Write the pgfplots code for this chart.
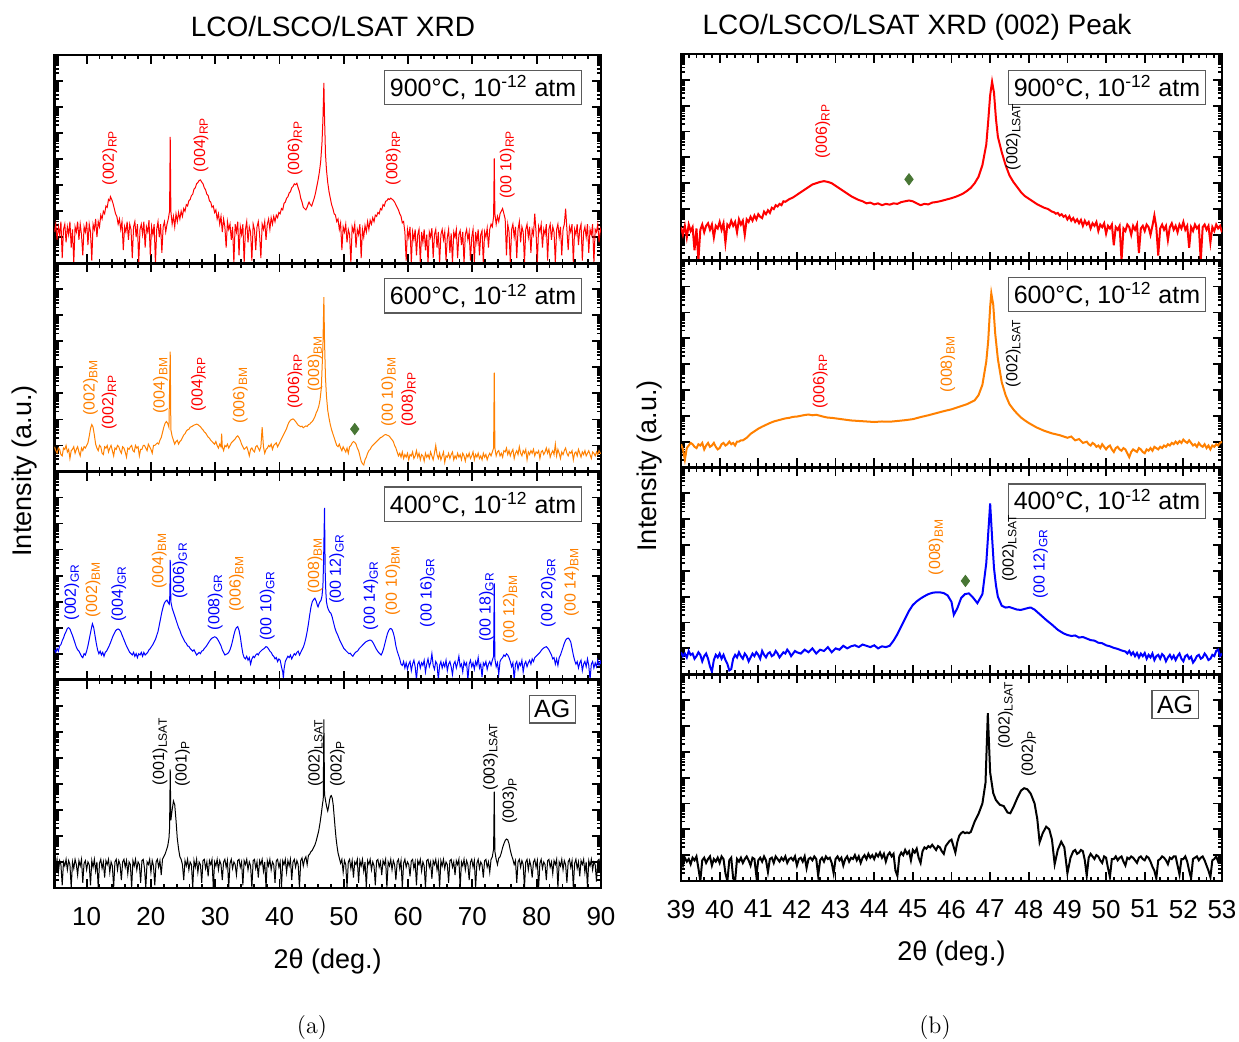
\documentclass[border=0pt]{standalone}
\usepackage{pgfplots}
\pgfplotsset{compat=1.18}
\usepackage{pgfplotstable}
\usepackage{fontspec}
\setsansfont{Liberation Sans}

\definecolor{xred}{RGB}{255,0,0}
\definecolor{xorange}{RGB}{255,128,0}
\definecolor{xblue}{RGB}{0,0,255}
\definecolor{dgreen}{RGB}{72,118,52}
\definecolor{boxgray}{RGB}{90,90,90}

% Intensities are stored as log10 counts above the panel floor (8 decades per panel).
% ---------- full scans, 5-90 deg ----------
\pgfplotstableread[row sep=\\]{x v\\
5.0 1.2\\ 5.2 1.5\\ 5.4 0.9\\ 5.6 1.4\\ 5.8 1.1\\ 6.0 1.6\\ 6.2 0.2\\ 6.4 1.3\\ 6.6 1.5\\ 6.8 0.8\\ 7.0 1.4\\ 7.2 1.1\\ 7.4 1.6\\ 7.6 0.6\\ 7.8 1.3\\ 8.0 0.0\\ 8.2 1.4\\ 8.4 1.2\\ 8.6 1.6\\ 8.8 0.9\\ 9.0 1.5\\ 9.2 1.1\\ 9.4 0.3\\ 9.6 1.4\\ 9.8 1.2\\ 10.0 1.6\\ 10.2 0.7\\ 10.4 1.5\\ 10.6 1.2\\ 10.8 0.1\\ 11.0 1.5\\ 11.2 1.3\\ 11.4 1.7\\ 11.6 1.0\\ 11.8 1.6\\ 12.0 1.4\\ 12.2 1.85\\ 12.4 1.7\\ 12.6 2.0\\ 12.8 1.9\\ 13.0 2.2\\ 13.2 2.15\\ 13.4 2.45\\ 13.6 2.4\\ 13.7 2.56\\ 13.9 2.45\\ 14.1 2.3\\ 14.3 2.1\\ 14.5 1.9\\ 14.7 1.8\\ 14.9 1.5\\ 15.1 1.7\\ 15.3 1.3\\ 15.5 1.6\\ 15.7 0.5\\ 15.9 1.4\\ 16.1 1.2\\ 16.3 1.6\\ 16.5 0.9\\ 16.7 1.5\\ 16.9 1.3\\ 17.1 0.2\\ 17.3 1.4\\ 17.5 1.6\\ 17.7 1.0\\ 17.9 1.5\\ 18.1 0.0\\ 18.3 1.3\\ 18.5 1.5\\ 18.7 1.1\\ 18.9 1.6\\ 19.1 0.6\\ 19.3 1.4\\ 19.5 1.2\\ 19.7 1.65\\ 19.9 0.3\\ 20.1 1.4\\ 20.3 1.1\\ 20.5 1.5\\ 20.7 0.0\\ 20.9 1.3\\ 21.1 1.6\\ 21.3 1.0\\ 21.5 1.5\\ 21.7 0.4\\ 21.9 1.4\\ 22.1 1.6\\ 22.3 1.2\\ 22.5 1.5\\ 22.7 1.7\\ 22.9 2.0\\ 23.0 4.85\\ 23.1 2.0\\ 23.3 1.5\\ 23.5 1.8\\ 23.7 1.4\\ 23.9 1.9\\ 24.1 1.6\\ 24.3 1.95\\ 24.5 1.7\\ 24.7 2.0\\ 24.9 1.8\\ 25.1 2.1\\ 25.3 2.0\\ 25.5 2.25\\ 25.7 2.2\\ 25.9 2.4\\ 26.1 2.45\\ 26.3 2.6\\ 26.5 2.65\\ 26.7 2.85\\ 26.9 2.9\\ 27.1 3.05\\ 27.3 3.1\\ 27.5 3.18\\ 27.7 3.2\\ 27.9 3.12\\ 28.1 3.05\\ 28.3 2.9\\ 28.5 2.82\\ 28.7 2.65\\ 28.9 2.6\\ 29.1 2.4\\ 29.3 2.35\\ 29.5 2.15\\ 29.7 2.2\\ 29.9 1.95\\ 30.1 2.05\\ 30.3 1.7\\ 30.5 1.9\\ 30.7 1.5\\ 30.9 1.8\\ 31.1 1.2\\ 31.3 1.7\\ 31.5 1.4\\ 31.7 0.6\\ 31.9 1.6\\ 32.1 1.3\\ 32.3 1.5\\ 32.5 0.9\\ 32.7 1.4\\ 32.9 0.0\\ 33.1 1.5\\ 33.3 1.2\\ 33.5 1.6\\ 33.7 0.3\\ 33.9 1.4\\ 34.1 1.1\\ 34.3 1.5\\ 34.5 0.0\\ 34.7 1.3\\ 34.9 1.6\\ 35.1 0.8\\ 35.3 1.4\\ 35.5 1.2\\ 35.7 0.1\\ 35.9 1.5\\ 36.1 1.3\\ 36.3 0.5\\ 36.5 1.4\\ 36.7 1.6\\ 36.9 1.1\\ 37.1 0.2\\ 37.3 1.5\\ 37.5 1.3\\ 37.7 1.6\\ 37.9 0.9\\ 38.1 1.5\\ 38.3 1.7\\ 38.5 1.3\\ 38.7 1.75\\ 38.9 1.5\\ 39.1 1.8\\ 39.3 1.6\\ 39.5 1.85\\ 39.7 1.75\\ 39.9 1.95\\ 40.1 1.9\\ 40.3 2.1\\ 40.5 2.05\\ 40.7 2.3\\ 40.9 2.35\\ 41.1 2.5\\ 41.3 2.55\\ 41.5 2.7\\ 41.7 2.75\\ 41.9 2.9\\ 42.1 2.95\\ 42.3 3.05\\ 42.5 3.02\\ 42.7 3.07\\ 42.9 2.9\\ 43.1 2.75\\ 43.3 2.5\\ 43.5 2.35\\ 43.7 2.15\\ 43.9 2.1\\ 44.1 2.05\\ 44.3 2.15\\ 44.5 2.3\\ 44.6 2.35\\ 44.8 2.25\\ 45.0 2.2\\ 45.2 2.35\\ 45.4 2.5\\ 45.6 2.7\\ 45.8 2.95\\ 46.0 3.2\\ 46.2 3.5\\ 46.4 3.9\\ 46.6 4.6\\ 46.75 5.5\\ 46.9 6.93\\ 47.0 5.6\\ 47.15 4.2\\ 47.3 3.6\\ 47.5 3.1\\ 47.7 2.75\\ 47.9 2.5\\ 48.1 2.25\\ 48.3 2.1\\ 48.5 1.9\\ 48.7 1.85\\ 48.9 1.6\\ 49.1 1.7\\ 49.3 1.3\\ 49.5 1.55\\ 49.7 0.5\\ 49.9 1.4\\ 50.1 1.2\\ 50.3 1.5\\ 50.5 0.8\\ 50.7 1.3\\ 50.9 1.1\\ 51.1 0.0\\ 51.3 1.4\\ 51.5 1.2\\ 51.7 1.5\\ 51.9 0.6\\ 52.1 1.3\\ 52.3 1.1\\ 52.5 1.5\\ 52.7 0.2\\ 52.9 1.3\\ 53.1 1.0\\ 53.3 1.45\\ 53.5 1.2\\ 53.7 1.6\\ 53.9 1.3\\ 54.1 1.65\\ 54.3 1.5\\ 54.5 1.75\\ 54.7 1.6\\ 54.9 1.85\\ 55.1 1.8\\ 55.3 1.95\\ 55.5 1.9\\ 55.7 2.1\\ 55.9 2.05\\ 56.1 2.25\\ 56.3 2.2\\ 56.5 2.38\\ 56.7 2.4\\ 56.9 2.48\\ 57.1 2.45\\ 57.3 2.5\\ 57.5 2.46\\ 57.7 2.42\\ 57.9 2.35\\ 58.1 2.25\\ 58.3 2.15\\ 58.5 2.05\\ 58.7 1.9\\ 58.9 1.8\\ 59.1 1.55\\ 59.3 1.6\\ 59.5 1.2\\ 59.7 0.1\\ 59.9 1.3\\ 60.1 1.0\\ 60.3 1.4\\ 60.5 0.0\\ 60.7 1.2\\ 60.9 0.9\\ 61.1 1.3\\ 61.3 0.3\\ 61.5 1.1\\ 61.7 1.3\\ 61.9 0.0\\ 62.1 1.2\\ 62.3 0.8\\ 62.5 1.3\\ 62.7 0.5\\ 62.9 1.1\\ 63.1 0.0\\ 63.3 1.2\\ 63.5 1.0\\ 63.7 1.35\\ 63.9 0.2\\ 64.1 1.1\\ 64.3 1.3\\ 64.5 0.6\\ 64.7 1.2\\ 64.9 0.0\\ 65.1 1.1\\ 65.3 1.3\\ 65.5 0.9\\ 65.7 1.2\\ 65.9 0.1\\ 66.1 1.0\\ 66.3 1.3\\ 66.5 0.4\\ 66.7 1.15\\ 66.9 0.0\\ 67.1 1.2\\ 67.3 1.0\\ 67.5 1.3\\ 67.7 0.2\\ 67.9 1.1\\ 68.1 1.25\\ 68.3 0.7\\ 68.5 1.2\\ 68.7 0.0\\ 68.9 1.1\\ 69.1 1.3\\ 69.3 0.9\\ 69.5 1.2\\ 69.7 0.1\\ 69.9 1.0\\ 70.1 1.3\\ 70.3 0.0\\ 70.5 1.2\\ 70.7 0.8\\ 70.9 1.3\\ 71.1 0.3\\ 71.3 1.1\\ 71.5 1.25\\ 71.7 0.0\\ 71.9 1.2\\ 72.1 1.0\\ 72.3 1.35\\ 72.5 0.6\\ 72.7 1.3\\ 72.9 1.5\\ 73.1 1.4\\ 73.3 1.8\\ 73.4 4.03\\ 73.5 1.9\\ 73.7 1.5\\ 73.9 1.8\\ 74.1 1.6\\ 74.3 1.9\\ 74.5 2.0\\ 74.7 2.1\\ 74.9 1.9\\ 75.1 1.7\\ 75.3 0.3\\ 75.5 1.5\\ 75.7 1.2\\ 75.9 0.0\\ 76.1 1.3\\ 76.3 1.5\\ 76.5 1.0\\ 76.7 1.4\\ 76.9 0.2\\ 77.1 1.3\\ 77.3 1.6\\ 77.5 0.8\\ 77.7 1.4\\ 77.9 1.2\\ 78.1 0.0\\ 78.3 1.3\\ 78.5 1.5\\ 78.7 1.0\\ 78.9 1.4\\ 79.1 0.4\\ 79.3 1.3\\ 79.5 1.1\\ 79.7 1.9\\ 79.9 1.2\\ 80.1 0.0\\ 80.3 1.4\\ 80.5 1.2\\ 80.7 1.5\\ 80.9 0.6\\ 81.1 1.3\\ 81.3 1.1\\ 81.5 1.5\\ 81.7 0.1\\ 81.9 1.3\\ 82.1 1.5\\ 82.3 0.9\\ 82.5 1.4\\ 82.7 1.2\\ 82.9 0.0\\ 83.1 1.3\\ 83.3 1.5\\ 83.5 1.0\\ 83.7 1.4\\ 83.9 0.3\\ 84.1 1.3\\ 84.3 1.5\\ 84.5 2.1\\ 84.7 1.3\\ 84.9 0.5\\ 85.1 1.4\\ 85.3 1.2\\ 85.5 1.5\\ 85.7 0.0\\ 85.9 1.3\\ 86.1 1.1\\ 86.3 1.5\\ 86.5 0.7\\ 86.7 1.3\\ 86.9 1.5\\ 87.1 0.1\\ 87.3 1.2\\ 87.5 1.4\\ 87.7 1.0\\ 87.9 1.5\\ 88.1 0.4\\ 88.3 1.3\\ 88.5 1.1\\ 88.7 1.5\\ 88.9 0.0\\ 89.1 1.3\\ 89.3 1.2\\ 89.5 1.5\\ 89.7 0.8\\ 89.9 1.3\\ 90.0 1.2\\
}\scanNine

\pgfplotstableread[row sep=\\]{x v\\
5.0 0.95\\ 5.2 0.8\\ 5.4 0.7\\ 5.6 0.9\\ 5.8 0.85\\ 6.0 0.65\\ 6.2 0.6\\ 6.4 0.9\\ 6.6 0.85\\ 6.8 1.0\\ 7.0 0.75\\ 7.2 0.85\\ 7.4 0.5\\ 7.6 0.8\\ 7.8 0.85\\ 8.0 0.95\\ 8.2 0.7\\ 8.4 0.85\\ 8.6 0.95\\ 8.8 0.75\\ 9.0 0.6\\ 9.2 0.9\\ 9.4 0.8\\ 9.6 0.95\\ 9.8 0.9\\ 10.0 1.0\\ 10.2 1.1\\ 10.4 1.35\\ 10.6 1.65\\ 10.8 1.8\\ 11.0 1.7\\ 11.2 1.4\\ 11.4 1.05\\ 11.6 0.9\\ 11.8 0.8\\ 12.0 1.0\\ 12.2 0.95\\ 12.4 0.7\\ 12.6 0.65\\ 12.8 0.95\\ 13.0 0.9\\ 13.2 1.0\\ 13.4 0.75\\ 13.6 0.9\\ 13.8 1.0\\ 14.0 0.8\\ 14.2 0.6\\ 14.4 0.9\\ 14.6 0.85\\ 14.8 1.0\\ 15.0 0.95\\ 15.2 0.8\\ 15.4 0.7\\ 15.6 0.95\\ 15.8 0.9\\ 16.0 0.75\\ 16.2 0.55\\ 16.4 0.9\\ 16.6 0.85\\ 16.8 0.95\\ 17.0 1.0\\ 17.2 0.8\\ 17.4 0.75\\ 17.6 1.0\\ 17.8 0.9\\ 18.0 0.95\\ 18.2 0.6\\ 18.4 0.85\\ 18.6 0.85\\ 18.8 1.0\\ 19.0 1.0\\ 19.2 0.9\\ 19.4 0.8\\ 19.6 1.05\\ 19.8 0.95\\ 20.0 0.85\\ 20.2 0.7\\ 20.4 1.0\\ 20.6 1.0\\ 20.8 1.05\\ 21.0 1.1\\ 21.2 1.05\\ 21.4 1.2\\ 21.6 1.3\\ 21.8 1.5\\ 22.0 1.7\\ 22.2 1.85\\ 22.4 1.92\\ 22.6 1.85\\ 22.8 1.7\\ 23.0 4.6\\ 23.1 1.6\\ 23.3 1.35\\ 23.5 1.2\\ 23.7 1.05\\ 23.9 1.15\\ 24.1 1.2\\ 24.3 1.05\\ 24.5 1.15\\ 24.7 1.2\\ 24.9 1.3\\ 25.1 1.4\\ 25.3 1.45\\ 25.5 1.55\\ 25.7 1.6\\ 25.9 1.62\\ 26.1 1.7\\ 26.3 1.72\\ 26.5 1.75\\ 26.7 1.78\\ 26.9 1.8\\ 27.1 1.82\\ 27.3 1.8\\ 27.5 1.76\\ 27.7 1.72\\ 27.9 1.65\\ 28.1 1.6\\ 28.3 1.52\\ 28.5 1.48\\ 28.7 1.4\\ 28.9 1.32\\ 29.1 1.28\\ 29.3 1.2\\ 29.5 1.15\\ 29.7 1.1\\ 29.9 1.05\\ 30.1 1.15\\ 30.3 1.0\\ 30.5 0.9\\ 30.7 1.05\\ 30.9 0.95\\ 31.0 1.45\\ 31.1 0.95\\ 31.3 0.8\\ 31.5 1.0\\ 31.7 0.95\\ 31.9 1.05\\ 32.1 0.9\\ 32.3 1.0\\ 32.5 1.1\\ 32.7 1.15\\ 32.9 1.2\\ 33.1 1.25\\ 33.3 1.33\\ 33.5 1.37\\ 33.7 1.3\\ 33.9 1.2\\ 34.1 1.05\\ 34.3 0.95\\ 34.5 0.85\\ 34.7 0.9\\ 34.9 0.95\\ 35.1 0.8\\ 35.3 0.6\\ 35.5 0.85\\ 35.7 0.9\\ 35.9 0.8\\ 36.1 0.75\\ 36.3 0.95\\ 36.5 1.0\\ 36.7 0.9\\ 36.9 0.8\\ 37.1 0.95\\ 37.3 1.7\\ 37.5 0.95\\ 37.7 0.7\\ 37.9 0.85\\ 38.1 0.9\\ 38.3 1.0\\ 38.5 0.95\\ 38.7 1.05\\ 38.9 0.85\\ 39.1 1.0\\ 39.3 1.05\\ 39.5 1.1\\ 39.7 0.95\\ 39.9 1.05\\ 40.1 1.15\\ 40.3 1.25\\ 40.5 1.35\\ 40.7 1.45\\ 40.9 1.55\\ 41.1 1.65\\ 41.3 1.8\\ 41.5 1.9\\ 41.7 1.97\\ 41.9 2.0\\ 42.1 2.02\\ 42.3 1.98\\ 42.5 1.92\\ 42.7 1.85\\ 42.9 1.78\\ 43.1 1.75\\ 43.3 1.72\\ 43.5 1.74\\ 43.7 1.68\\ 43.9 1.72\\ 44.1 1.75\\ 44.3 1.73\\ 44.5 1.8\\ 44.7 1.82\\ 44.9 1.88\\ 45.1 1.92\\ 45.3 2.0\\ 45.5 2.1\\ 45.7 2.25\\ 45.9 2.35\\ 46.1 2.5\\ 46.3 2.75\\ 46.5 3.2\\ 46.75 4.8\\ 46.9 6.7\\ 47.0 5.0\\ 47.15 3.6\\ 47.3 2.9\\ 47.5 2.35\\ 47.7 2.05\\ 47.9 1.8\\ 48.1 1.6\\ 48.3 1.45\\ 48.5 1.3\\ 48.7 1.15\\ 48.9 1.0\\ 49.1 0.95\\ 49.3 1.05\\ 49.5 0.9\\ 49.7 0.8\\ 49.9 0.95\\ 50.1 0.85\\ 50.3 0.75\\ 50.5 0.9\\ 50.7 0.7\\ 50.9 0.95\\ 51.1 1.0\\ 51.3 1.1\\ 51.5 1.15\\ 51.7 1.12\\ 51.9 1.05\\ 52.1 0.9\\ 52.3 0.8\\ 52.5 0.6\\ 52.7 0.4\\ 52.9 0.3\\ 53.1 0.25\\ 53.3 0.45\\ 53.5 0.55\\ 53.7 0.7\\ 53.9 0.8\\ 54.1 0.85\\ 54.3 0.95\\ 54.5 1.0\\ 54.7 1.05\\ 54.9 1.1\\ 55.1 1.15\\ 55.3 1.2\\ 55.5 1.25\\ 55.7 1.3\\ 55.9 1.32\\ 56.1 1.36\\ 56.3 1.4\\ 56.5 1.42\\ 56.7 1.4\\ 56.9 1.38\\ 57.1 1.35\\ 57.3 1.28\\ 57.5 1.22\\ 57.7 1.15\\ 57.9 1.0\\ 58.1 0.9\\ 58.3 0.75\\ 58.5 0.6\\ 58.7 0.7\\ 58.9 0.55\\ 59.1 0.75\\ 59.3 0.5\\ 59.5 0.65\\ 59.7 0.55\\ 59.9 0.7\\ 60.1 0.45\\ 60.3 0.65\\ 60.5 0.6\\ 60.7 0.75\\ 60.9 0.5\\ 61.1 0.6\\ 61.3 0.8\\ 61.5 0.55\\ 61.7 0.7\\ 61.9 0.45\\ 62.1 0.65\\ 62.3 0.6\\ 62.5 0.4\\ 62.7 0.7\\ 62.9 0.55\\ 63.1 0.65\\ 63.3 0.5\\ 63.5 0.75\\ 63.7 0.6\\ 63.9 0.45\\ 64.1 0.7\\ 64.3 1.0\\ 64.5 0.65\\ 64.7 0.5\\ 64.9 0.7\\ 65.1 0.45\\ 65.3 0.6\\ 65.5 0.75\\ 65.7 0.35\\ 65.9 0.6\\ 66.1 0.55\\ 66.3 0.7\\ 66.5 0.5\\ 66.7 0.65\\ 66.9 0.75\\ 67.1 0.45\\ 67.3 0.6\\ 67.5 0.5\\ 67.7 0.7\\ 67.9 0.55\\ 68.1 0.65\\ 68.3 0.45\\ 68.5 0.7\\ 68.7 0.6\\ 68.9 0.4\\ 69.1 0.65\\ 69.3 0.55\\ 69.5 0.7\\ 69.7 0.5\\ 69.9 0.6\\ 70.1 0.75\\ 70.3 0.45\\ 70.5 0.65\\ 70.7 0.55\\ 70.9 0.7\\ 71.1 0.5\\ 71.3 0.6\\ 71.5 0.45\\ 71.7 0.7\\ 71.9 0.55\\ 72.1 0.65\\ 72.3 0.45\\ 72.5 0.6\\ 72.7 0.7\\ 72.9 0.6\\ 73.1 0.75\\ 73.3 0.9\\ 73.4 3.8\\ 73.5 0.9\\ 73.7 0.6\\ 73.9 0.75\\ 74.1 0.8\\ 74.3 0.6\\ 74.5 0.7\\ 74.7 0.55\\ 74.9 0.8\\ 75.1 0.75\\ 75.3 0.9\\ 75.5 0.65\\ 75.7 0.8\\ 75.9 0.6\\ 76.1 0.75\\ 76.3 0.85\\ 76.5 0.5\\ 76.7 0.7\\ 76.9 0.8\\ 77.1 0.65\\ 77.3 0.95\\ 77.5 0.7\\ 77.7 0.6\\ 77.9 0.8\\ 78.1 0.7\\ 78.3 0.85\\ 78.5 0.45\\ 78.7 0.75\\ 78.9 0.65\\ 79.1 0.8\\ 79.3 0.7\\ 79.5 0.85\\ 79.7 0.6\\ 79.9 0.75\\ 80.1 0.7\\ 80.3 0.8\\ 80.5 0.5\\ 80.7 0.75\\ 80.9 0.8\\ 81.1 0.65\\ 81.3 0.75\\ 81.5 0.9\\ 81.7 0.7\\ 81.9 0.85\\ 82.1 0.55\\ 82.3 0.7\\ 82.5 0.8\\ 82.7 0.65\\ 82.9 1.05\\ 83.1 0.6\\ 83.3 0.85\\ 83.5 0.7\\ 83.7 0.5\\ 83.9 0.75\\ 84.1 0.65\\ 84.3 0.8\\ 84.5 0.9\\ 84.7 0.7\\ 84.9 0.6\\ 85.1 0.75\\ 85.3 0.7\\ 85.5 0.8\\ 85.7 0.45\\ 85.9 0.7\\ 86.1 0.75\\ 86.3 0.6\\ 86.5 0.85\\ 86.7 0.7\\ 86.9 0.55\\ 87.1 0.75\\ 87.3 0.65\\ 87.5 0.8\\ 87.7 0.6\\ 87.9 0.7\\ 88.1 0.8\\ 88.3 0.65\\ 88.5 0.5\\ 88.7 0.75\\ 88.9 0.7\\ 89.1 0.6\\ 89.3 0.75\\ 89.5 0.65\\ 89.7 0.8\\ 89.9 0.7\\ 90.0 0.7\\
}\scanSix

\pgfplotstableread[row sep=\\]{x v\\
5.0 1.15\\ 5.2 1.05\\ 5.4 1.2\\ 5.6 1.1\\ 5.8 1.3\\ 6.0 1.35\\ 6.2 1.5\\ 6.4 1.6\\ 6.6 1.75\\ 6.8 1.85\\ 7.0 1.97\\ 7.2 2.0\\ 7.4 1.95\\ 7.6 1.82\\ 7.8 1.7\\ 8.0 1.55\\ 8.2 1.4\\ 8.4 1.25\\ 8.6 1.15\\ 8.8 1.1\\ 9.0 1.0\\ 9.2 0.9\\ 9.4 0.85\\ 9.6 1.0\\ 9.8 0.95\\ 10.0 1.1\\ 10.2 1.3\\ 10.4 1.55\\ 10.6 1.8\\ 10.8 2.05\\ 10.9 2.15\\ 11.1 2.0\\ 11.3 1.7\\ 11.5 1.4\\ 11.7 1.15\\ 11.9 1.0\\ 12.1 1.1\\ 12.3 0.95\\ 12.5 1.05\\ 12.7 0.9\\ 12.9 1.05\\ 13.1 1.1\\ 13.3 1.2\\ 13.5 1.3\\ 13.7 1.42\\ 13.9 1.55\\ 14.1 1.68\\ 14.3 1.78\\ 14.5 1.88\\ 14.7 1.93\\ 14.9 1.95\\ 15.1 1.92\\ 15.3 1.85\\ 15.5 1.72\\ 15.7 1.6\\ 15.9 1.48\\ 16.1 1.35\\ 16.3 1.25\\ 16.5 1.15\\ 16.7 1.05\\ 16.9 1.0\\ 17.1 0.95\\ 17.3 1.05\\ 17.5 0.9\\ 17.7 1.0\\ 17.9 0.85\\ 18.1 1.0\\ 18.3 0.95\\ 18.5 1.05\\ 18.7 0.9\\ 18.9 1.05\\ 19.1 0.95\\ 19.3 1.0\\ 19.5 1.05\\ 19.7 1.15\\ 19.9 1.2\\ 20.1 1.28\\ 20.3 1.35\\ 20.5 1.45\\ 20.7 1.55\\ 20.9 1.7\\ 21.1 1.85\\ 21.3 2.1\\ 21.5 2.35\\ 21.7 2.6\\ 21.9 2.8\\ 22.1 2.95\\ 22.3 3.02\\ 22.5 3.06\\ 22.7 2.95\\ 22.85 2.9\\ 22.95 3.3\\ 23.0 4.6\\ 23.1 3.0\\ 23.3 2.75\\ 23.5 2.6\\ 23.7 2.45\\ 23.9 2.3\\ 24.1 2.15\\ 24.3 2.0\\ 24.5 1.9\\ 24.7 1.75\\ 24.9 1.65\\ 25.1 1.55\\ 25.3 1.45\\ 25.5 1.4\\ 25.7 1.3\\ 25.9 1.28\\ 26.1 1.2\\ 26.3 1.15\\ 26.5 1.1\\ 26.7 1.15\\ 26.9 1.05\\ 27.1 0.95\\ 27.3 1.0\\ 27.5 1.05\\ 27.7 1.0\\ 27.9 1.1\\ 28.1 1.12\\ 28.3 1.2\\ 28.5 1.25\\ 28.7 1.32\\ 28.9 1.4\\ 29.1 1.48\\ 29.3 1.55\\ 29.5 1.6\\ 29.7 1.62\\ 29.9 1.65\\ 30.1 1.63\\ 30.3 1.58\\ 30.5 1.5\\ 30.7 1.4\\ 30.9 1.3\\ 31.1 1.15\\ 31.3 1.05\\ 31.5 0.95\\ 31.7 0.98\\ 31.9 1.0\\ 32.1 1.05\\ 32.3 1.15\\ 32.5 1.3\\ 32.7 1.5\\ 32.9 1.72\\ 33.1 1.9\\ 33.3 2.0\\ 33.5 2.04\\ 33.7 1.9\\ 33.9 1.65\\ 34.1 1.3\\ 34.3 1.0\\ 34.5 0.85\\ 34.7 0.8\\ 34.9 0.9\\ 35.1 0.75\\ 35.3 0.85\\ 35.5 0.6\\ 35.7 0.8\\ 35.9 0.9\\ 36.1 0.85\\ 36.3 0.95\\ 36.5 1.0\\ 36.7 0.95\\ 36.9 1.05\\ 37.1 1.1\\ 37.3 1.15\\ 37.5 1.18\\ 37.7 1.22\\ 37.9 1.27\\ 38.1 1.25\\ 38.3 1.18\\ 38.5 1.1\\ 38.7 1.05\\ 38.9 0.95\\ 39.1 0.9\\ 39.3 0.8\\ 39.5 0.85\\ 39.7 0.7\\ 39.9 0.8\\ 40.1 0.75\\ 40.3 0.5\\ 40.5 0.3\\ 40.6 0.05\\ 40.7 0.4\\ 40.9 0.7\\ 41.1 0.8\\ 41.3 0.9\\ 41.5 0.85\\ 41.7 0.95\\ 41.9 0.8\\ 42.1 0.9\\ 42.3 1.0\\ 42.5 0.95\\ 42.7 1.05\\ 42.9 1.1\\ 43.1 0.95\\ 43.3 1.05\\ 43.5 1.15\\ 43.7 1.25\\ 43.9 1.4\\ 44.1 1.6\\ 44.3 1.85\\ 44.5 2.15\\ 44.7 2.5\\ 44.9 2.8\\ 45.1 3.0\\ 45.3 3.08\\ 45.5 3.13\\ 45.7 3.02\\ 45.9 2.85\\ 46.0 2.8\\ 46.15 2.92\\ 46.3 3.0\\ 46.45 3.05\\ 46.6 3.2\\ 46.75 3.6\\ 46.85 4.5\\ 47.0 6.6\\ 47.1 4.2\\ 47.2 3.4\\ 47.3 3.0\\ 47.45 2.8\\ 47.6 2.7\\ 47.8 2.6\\ 48.0 2.55\\ 48.2 2.4\\ 48.4 2.2\\ 48.6 2.0\\ 48.8 1.85\\ 49.0 1.75\\ 49.2 1.62\\ 49.4 1.5\\ 49.6 1.4\\ 49.8 1.3\\ 50.0 1.2\\ 50.2 1.15\\ 50.4 1.1\\ 50.6 1.05\\ 50.8 1.0\\ 51.0 1.02\\ 51.2 0.95\\ 51.4 0.9\\ 51.6 0.98\\ 51.8 1.05\\ 52.0 1.08\\ 52.2 1.12\\ 52.4 1.2\\ 52.6 1.25\\ 52.8 1.3\\ 53.0 1.35\\ 53.2 1.4\\ 53.4 1.45\\ 53.6 1.48\\ 53.8 1.5\\ 54.0 1.52\\ 54.2 1.52\\ 54.4 1.48\\ 54.6 1.4\\ 54.8 1.3\\ 55.0 1.2\\ 55.2 1.12\\ 55.4 1.05\\ 55.6 1.0\\ 55.8 0.95\\ 56.0 1.05\\ 56.2 1.2\\ 56.4 1.4\\ 56.6 1.6\\ 56.8 1.78\\ 57.0 1.9\\ 57.2 1.96\\ 57.3 1.97\\ 57.5 1.93\\ 57.7 1.8\\ 57.9 1.6\\ 58.1 1.3\\ 58.3 1.1\\ 58.5 0.95\\ 58.7 0.8\\ 58.9 0.6\\ 59.1 0.55\\ 59.3 0.7\\ 59.5 0.45\\ 59.7 0.65\\ 59.9 0.4\\ 60.1 0.6\\ 60.3 0.7\\ 60.5 0.35\\ 60.7 0.6\\ 60.9 0.75\\ 61.1 0.5\\ 61.3 0.0\\ 61.5 0.6\\ 61.7 0.7\\ 61.9 0.45\\ 62.1 0.65\\ 62.3 0.55\\ 62.5 0.75\\ 62.7 0.3\\ 62.9 0.6\\ 63.1 0.8\\ 63.3 0.5\\ 63.5 0.65\\ 63.7 1.0\\ 63.9 0.55\\ 64.1 0.4\\ 64.3 0.7\\ 64.5 0.6\\ 64.7 0.0\\ 64.9 0.55\\ 65.1 0.7\\ 65.3 0.45\\ 65.5 0.65\\ 65.7 0.5\\ 65.9 0.75\\ 66.1 0.35\\ 66.3 0.6\\ 66.5 0.7\\ 66.7 0.5\\ 66.9 0.2\\ 67.1 0.6\\ 67.3 0.7\\ 67.5 0.45\\ 67.7 0.65\\ 67.9 0.9\\ 68.1 0.5\\ 68.3 0.6\\ 68.5 0.3\\ 68.7 0.7\\ 68.9 0.55\\ 69.1 0.65\\ 69.3 0.0\\ 69.5 0.6\\ 69.7 0.75\\ 69.9 0.5\\ 70.1 0.65\\ 70.3 0.4\\ 70.5 0.7\\ 70.7 0.55\\ 70.9 0.85\\ 71.1 0.45\\ 71.3 0.6\\ 71.5 0.1\\ 71.7 0.65\\ 71.9 0.55\\ 72.1 0.7\\ 72.3 0.4\\ 72.5 0.6\\ 72.7 0.7\\ 72.9 0.55\\ 73.1 0.75\\ 73.3 0.9\\ 73.4 3.7\\ 73.5 0.8\\ 73.7 0.5\\ 73.9 0.65\\ 74.1 0.2\\ 74.3 0.7\\ 74.5 0.8\\ 74.7 0.85\\ 74.9 0.95\\ 75.1 0.9\\ 75.3 1.0\\ 75.5 0.95\\ 75.7 0.85\\ 75.9 0.7\\ 76.1 0.5\\ 76.3 0.65\\ 76.5 0.0\\ 76.7 0.6\\ 76.9 0.7\\ 77.1 0.4\\ 77.3 0.65\\ 77.5 0.55\\ 77.7 0.75\\ 77.9 0.3\\ 78.1 0.6\\ 78.3 0.7\\ 78.5 0.5\\ 78.7 0.65\\ 78.9 0.75\\ 79.1 0.6\\ 79.3 0.8\\ 79.5 0.7\\ 79.7 0.85\\ 79.9 0.9\\ 80.1 0.95\\ 80.3 1.0\\ 80.5 1.05\\ 80.7 1.12\\ 80.9 1.18\\ 81.1 1.22\\ 81.3 1.25\\ 81.5 1.27\\ 81.7 1.22\\ 81.9 1.15\\ 82.1 1.05\\ 82.3 0.95\\ 82.5 0.8\\ 82.7 0.85\\ 82.9 0.6\\ 83.1 0.8\\ 83.3 0.55\\ 83.5 0.85\\ 83.7 0.95\\ 83.9 1.1\\ 84.1 1.25\\ 84.3 1.4\\ 84.5 1.52\\ 84.7 1.58\\ 84.9 1.6\\ 85.1 1.55\\ 85.3 1.45\\ 85.5 1.2\\ 85.7 0.95\\ 85.9 0.75\\ 86.1 0.6\\ 86.3 0.7\\ 86.5 0.45\\ 86.7 0.65\\ 86.9 0.75\\ 87.1 0.35\\ 87.3 0.6\\ 87.5 0.7\\ 87.7 0.5\\ 87.9 0.8\\ 88.1 0.55\\ 88.3 0.0\\ 88.5 0.6\\ 88.7 0.7\\ 88.9 0.45\\ 89.1 0.65\\ 89.3 0.5\\ 89.5 0.75\\ 89.7 0.55\\ 89.9 0.7\\ 90.0 0.6\\
}\scanFour

\pgfplotstableread[row sep=\\]{x v\\
5.0 1.0\\ 5.2 0.8\\ 5.4 1.1\\ 5.6 0.6\\ 5.8 1.05\\ 6.0 0.9\\ 6.2 0.1\\ 6.4 1.0\\ 6.6 0.85\\ 6.8 1.1\\ 7.0 0.7\\ 7.2 1.05\\ 7.4 0.9\\ 7.6 0.0\\ 7.8 1.0\\ 8.0 0.75\\ 8.2 1.1\\ 8.4 0.9\\ 8.6 0.5\\ 8.8 1.05\\ 9.0 0.85\\ 9.2 1.1\\ 9.4 0.2\\ 9.6 0.95\\ 9.8 1.05\\ 10.0 0.7\\ 10.2 1.0\\ 10.4 0.9\\ 10.6 0.1\\ 10.8 1.05\\ 11.0 0.8\\ 11.2 1.1\\ 11.4 0.65\\ 11.6 1.0\\ 11.8 0.0\\ 12.0 0.95\\ 12.2 1.1\\ 12.4 0.75\\ 12.6 1.0\\ 12.8 0.4\\ 13.0 1.05\\ 13.2 0.9\\ 13.4 1.1\\ 13.6 0.6\\ 13.8 1.0\\ 14.0 0.85\\ 14.2 0.0\\ 14.4 1.0\\ 14.6 1.1\\ 14.8 0.7\\ 15.0 1.05\\ 15.2 0.9\\ 15.4 0.3\\ 15.6 1.0\\ 15.8 1.1\\ 16.0 0.8\\ 16.2 1.05\\ 16.4 0.55\\ 16.6 1.0\\ 16.8 0.9\\ 17.0 0.0\\ 17.2 1.05\\ 17.4 0.85\\ 17.6 1.1\\ 17.8 0.7\\ 18.0 1.0\\ 18.2 0.9\\ 18.4 0.2\\ 18.6 1.05\\ 18.8 1.1\\ 19.0 0.75\\ 19.2 0.0\\ 19.4 1.0\\ 19.6 0.9\\ 19.8 1.1\\ 20.0 0.6\\ 20.2 1.05\\ 20.4 0.85\\ 20.6 0.1\\ 20.8 1.0\\ 21.0 1.1\\ 21.2 0.8\\ 21.4 1.05\\ 21.6 0.5\\ 21.8 1.1\\ 22.0 1.2\\ 22.2 1.3\\ 22.4 1.45\\ 22.6 1.6\\ 22.8 1.9\\ 22.9 2.3\\ 23.0 4.56\\ 23.1 2.6\\ 23.3 3.0\\ 23.5 3.34\\ 23.7 3.2\\ 23.9 2.6\\ 24.1 1.9\\ 24.3 1.5\\ 24.5 1.2\\ 24.7 1.1\\ 24.9 0.9\\ 25.1 0.3\\ 25.3 1.05\\ 25.5 0.85\\ 25.7 1.1\\ 25.9 0.7\\ 26.1 1.0\\ 26.3 0.9\\ 26.5 0.0\\ 26.7 1.05\\ 26.9 0.8\\ 27.1 1.1\\ 27.3 0.6\\ 27.5 1.0\\ 27.7 0.9\\ 27.9 0.2\\ 28.1 1.05\\ 28.3 1.1\\ 28.5 0.75\\ 28.7 1.0\\ 28.9 0.45\\ 29.1 1.05\\ 29.3 0.9\\ 29.5 1.1\\ 29.7 0.0\\ 29.9 1.0\\ 30.1 0.85\\ 30.3 1.1\\ 30.5 0.7\\ 30.7 1.05\\ 30.9 0.9\\ 31.1 0.3\\ 31.3 1.0\\ 31.5 1.1\\ 31.7 0.8\\ 31.9 1.05\\ 32.1 0.0\\ 32.3 0.95\\ 32.5 1.1\\ 32.7 0.75\\ 32.9 1.0\\ 33.1 0.9\\ 33.3 0.5\\ 33.5 1.05\\ 33.7 1.1\\ 33.9 0.8\\ 34.1 1.0\\ 34.3 0.1\\ 34.5 1.05\\ 34.7 0.9\\ 34.9 1.1\\ 35.1 0.7\\ 35.3 1.0\\ 35.5 0.85\\ 35.7 0.0\\ 35.9 1.05\\ 36.1 1.1\\ 36.3 0.75\\ 36.5 1.0\\ 36.7 0.4\\ 36.9 1.05\\ 37.1 0.9\\ 37.3 1.1\\ 37.5 0.65\\ 37.7 1.0\\ 37.9 0.0\\ 38.1 1.05\\ 38.3 0.85\\ 38.5 1.1\\ 38.7 0.7\\ 38.9 1.0\\ 39.1 0.9\\ 39.3 0.2\\ 39.5 1.05\\ 39.7 1.1\\ 39.9 0.8\\ 40.1 1.0\\ 40.3 0.0\\ 40.5 1.05\\ 40.7 0.9\\ 40.9 1.1\\ 41.1 0.6\\ 41.3 1.05\\ 41.5 0.85\\ 41.7 1.1\\ 41.9 0.3\\ 42.1 1.0\\ 42.3 1.1\\ 42.5 0.8\\ 42.7 1.05\\ 42.9 0.9\\ 43.1 0.0\\ 43.3 1.05\\ 43.5 1.15\\ 43.7 0.85\\ 43.9 1.1\\ 44.1 1.2\\ 44.3 0.9\\ 44.5 1.25\\ 44.7 1.3\\ 44.9 1.4\\ 45.1 1.45\\ 45.3 1.55\\ 45.5 1.65\\ 45.7 1.8\\ 45.9 2.0\\ 46.1 2.2\\ 46.3 2.5\\ 46.5 2.85\\ 46.7 3.25\\ 46.8 3.4\\ 46.9 6.48\\ 47.0 3.6\\ 47.2 3.3\\ 47.35 3.1\\ 47.5 2.96\\ 47.65 3.15\\ 47.8 3.4\\ 47.95 3.53\\ 48.05 3.55\\ 48.2 3.45\\ 48.35 3.2\\ 48.5 2.75\\ 48.65 2.3\\ 48.8 1.9\\ 48.95 1.6\\ 49.1 1.35\\ 49.3 1.15\\ 49.5 0.95\\ 49.7 1.1\\ 49.9 0.6\\ 50.1 1.05\\ 50.3 0.9\\ 50.5 0.0\\ 50.7 1.0\\ 50.9 1.1\\ 51.1 0.75\\ 51.3 1.05\\ 51.5 0.4\\ 51.7 1.0\\ 51.9 0.9\\ 52.1 1.1\\ 52.3 0.2\\ 52.5 1.05\\ 52.7 0.85\\ 52.9 1.1\\ 53.1 0.65\\ 53.3 1.0\\ 53.5 0.0\\ 53.7 1.05\\ 53.9 0.9\\ 54.1 1.1\\ 54.3 0.7\\ 54.5 1.0\\ 54.7 0.85\\ 54.9 0.1\\ 55.1 1.05\\ 55.3 1.1\\ 55.5 0.8\\ 55.7 1.0\\ 55.9 0.5\\ 56.1 1.05\\ 56.3 0.9\\ 56.5 1.1\\ 56.7 0.0\\ 56.9 1.0\\ 57.1 0.85\\ 57.3 1.1\\ 57.5 0.7\\ 57.7 1.05\\ 57.9 0.9\\ 58.1 0.3\\ 58.3 1.0\\ 58.5 1.1\\ 58.7 0.75\\ 58.9 1.05\\ 59.1 0.0\\ 59.3 0.95\\ 59.5 1.1\\ 59.7 0.8\\ 59.9 1.0\\ 60.1 0.9\\ 60.3 0.45\\ 60.5 1.05\\ 60.7 1.1\\ 60.9 0.75\\ 61.1 1.0\\ 61.3 0.1\\ 61.5 1.05\\ 61.7 0.9\\ 61.9 1.1\\ 62.1 0.65\\ 62.3 1.0\\ 62.5 0.85\\ 62.7 0.0\\ 62.9 1.05\\ 63.1 1.1\\ 63.3 0.8\\ 63.5 1.0\\ 63.7 0.35\\ 63.9 1.05\\ 64.1 0.9\\ 64.3 1.1\\ 64.5 0.7\\ 64.7 1.0\\ 64.9 0.0\\ 65.1 1.05\\ 65.3 0.85\\ 65.5 1.1\\ 65.7 0.75\\ 65.9 1.0\\ 66.1 0.9\\ 66.3 0.2\\ 66.5 1.05\\ 66.7 1.1\\ 66.9 0.8\\ 67.1 1.0\\ 67.3 0.5\\ 67.5 1.05\\ 67.7 0.9\\ 67.9 1.1\\ 68.1 0.0\\ 68.3 1.0\\ 68.5 0.85\\ 68.7 1.1\\ 68.9 0.7\\ 69.1 1.05\\ 69.3 0.9\\ 69.5 0.3\\ 69.7 1.0\\ 69.9 1.1\\ 70.1 0.8\\ 70.3 1.05\\ 70.5 0.0\\ 70.7 0.95\\ 70.9 1.1\\ 71.1 0.75\\ 71.3 1.0\\ 71.5 0.9\\ 71.7 0.4\\ 71.9 1.05\\ 72.1 1.1\\ 72.3 0.8\\ 72.5 1.0\\ 72.7 0.6\\ 72.9 1.1\\ 73.1 1.2\\ 73.3 1.5\\ 73.4 3.7\\ 73.5 1.4\\ 73.7 1.1\\ 73.9 0.9\\ 74.1 1.15\\ 74.3 1.2\\ 74.5 1.35\\ 74.7 1.55\\ 74.9 1.7\\ 75.1 1.82\\ 75.3 1.88\\ 75.5 1.85\\ 75.7 1.7\\ 75.9 1.45\\ 76.1 1.25\\ 76.3 1.1\\ 76.5 0.9\\ 76.7 1.05\\ 76.9 0.2\\ 77.1 1.0\\ 77.3 1.1\\ 77.5 0.8\\ 77.7 1.05\\ 77.9 0.9\\ 78.1 0.0\\ 78.3 1.0\\ 78.5 1.1\\ 78.7 0.7\\ 78.9 1.05\\ 79.1 0.85\\ 79.3 0.4\\ 79.5 1.0\\ 79.7 1.1\\ 79.9 0.8\\ 80.1 1.05\\ 80.3 0.0\\ 80.5 0.95\\ 80.7 1.1\\ 80.9 0.75\\ 81.1 1.0\\ 81.3 0.9\\ 81.5 0.3\\ 81.7 1.05\\ 81.9 1.1\\ 82.1 0.8\\ 82.3 1.0\\ 82.5 0.55\\ 82.7 1.05\\ 82.9 0.9\\ 83.1 1.1\\ 83.3 0.0\\ 83.5 1.0\\ 83.7 0.85\\ 83.9 1.1\\ 84.1 0.7\\ 84.3 1.05\\ 84.5 0.9\\ 84.7 0.2\\ 84.9 1.0\\ 85.1 1.1\\ 85.3 0.8\\ 85.5 1.05\\ 85.7 0.0\\ 85.9 0.95\\ 86.1 1.1\\ 86.3 0.75\\ 86.5 1.0\\ 86.7 0.45\\ 86.9 1.05\\ 87.1 0.9\\ 87.3 1.1\\ 87.5 0.6\\ 87.7 1.0\\ 87.9 0.0\\ 88.1 1.05\\ 88.3 0.85\\ 88.5 1.1\\ 88.7 0.7\\ 88.9 1.0\\ 89.1 0.9\\ 89.3 0.25\\ 89.5 1.05\\ 89.7 1.1\\ 89.9 0.8\\ 90.0 0.9\\
}\scanAG

% ---------- (002) region, 39-53 deg ----------
\pgfplotstableread[row sep=\\]{x v\\
39.0 1.3\\ 39.05 1.0\\ 39.1 1.35\\ 39.15 0.9\\ 39.2 1.4\\ 39.25 1.15\\ 39.3 1.3\\ 39.35 0.4\\ 39.4 1.25\\ 39.45 0.0\\ 39.5 1.2\\ 39.55 1.4\\ 39.6 1.1\\ 39.65 1.35\\ 39.7 1.45\\ 39.75 1.2\\ 39.8 1.4\\ 39.85 0.9\\ 39.9 1.35\\ 39.95 1.25\\ 40.0 1.5\\ 40.05 1.2\\ 40.1 1.45\\ 40.15 0.7\\ 40.2 1.4\\ 40.25 1.3\\ 40.3 1.55\\ 40.35 1.35\\ 40.4 1.5\\ 40.45 1.1\\ 40.5 1.6\\ 40.55 1.4\\ 40.6 1.55\\ 40.65 1.0\\ 40.7 1.6\\ 40.75 1.5\\ 40.8 1.7\\ 40.85 1.55\\ 40.9 1.75\\ 40.95 1.6\\ 41.0 1.8\\ 41.05 1.7\\ 41.1 1.65\\ 41.15 1.9\\ 41.2 1.8\\ 41.25 1.95\\ 41.3 1.85\\ 41.35 2.05\\ 41.4 2.0\\ 41.45 2.15\\ 41.5 2.1\\ 41.55 2.2\\ 41.6 2.15\\ 41.65 2.3\\ 41.7 2.28\\ 41.8 2.38\\ 41.9 2.45\\ 42.0 2.55\\ 42.1 2.65\\ 42.2 2.75\\ 42.3 2.85\\ 42.4 2.95\\ 42.5 3.0\\ 42.6 3.05\\ 42.7 3.08\\ 42.8 3.05\\ 42.9 3.0\\ 43.0 2.9\\ 43.1 2.8\\ 43.2 2.7\\ 43.3 2.6\\ 43.4 2.5\\ 43.5 2.42\\ 43.6 2.35\\ 43.7 2.3\\ 43.8 2.22\\ 43.9 2.25\\ 44.0 2.18\\ 44.1 2.22\\ 44.2 2.15\\ 44.3 2.2\\ 44.4 2.17\\ 44.5 2.22\\ 44.6 2.2\\ 44.7 2.27\\ 44.8 2.3\\ 44.9 2.33\\ 45.0 2.3\\ 45.1 2.22\\ 45.2 2.15\\ 45.3 2.2\\ 45.4 2.18\\ 45.5 2.25\\ 45.6 2.27\\ 45.7 2.3\\ 45.8 2.34\\ 45.9 2.38\\ 46.0 2.42\\ 46.1 2.47\\ 46.2 2.53\\ 46.3 2.6\\ 46.4 2.7\\ 46.5 2.82\\ 46.6 3.0\\ 46.7 3.25\\ 46.8 3.7\\ 46.9 4.5\\ 46.95 5.4\\ 47.0 6.4\\ 47.05 6.93\\ 47.1 6.5\\ 47.15 5.5\\ 47.2 4.8\\ 47.3 4.2\\ 47.4 3.7\\ 47.5 3.3\\ 47.6 3.05\\ 47.7 2.85\\ 47.8 2.65\\ 47.9 2.5\\ 48.0 2.4\\ 48.1 2.3\\ 48.2 2.2\\ 48.3 2.12\\ 48.4 2.05\\ 48.5 2.0\\ 48.6 1.9\\ 48.65 1.88\\ 48.7 1.82\\ 48.75 1.85\\ 48.8 1.75\\ 48.85 1.8\\ 48.9 1.7\\ 48.95 1.75\\ 49.0 1.6\\ 49.05 1.72\\ 49.1 1.55\\ 49.15 1.65\\ 49.2 1.5\\ 49.25 1.6\\ 49.3 1.45\\ 49.35 1.58\\ 49.4 1.35\\ 49.45 1.55\\ 49.5 1.4\\ 49.55 1.5\\ 49.6 1.25\\ 49.65 1.45\\ 49.7 1.35\\ 49.75 1.5\\ 49.8 1.15\\ 49.85 1.4\\ 49.9 1.3\\ 49.95 1.45\\ 50.0 1.05\\ 50.05 1.35\\ 50.1 1.25\\ 50.15 1.4\\ 50.2 0.6\\ 50.25 1.3\\ 50.3 1.2\\ 50.35 1.35\\ 50.4 0.0\\ 50.45 1.25\\ 50.5 1.15\\ 50.55 1.4\\ 50.6 1.3\\ 50.65 1.0\\ 50.7 1.35\\ 50.75 1.2\\ 50.8 1.4\\ 50.85 0.3\\ 50.9 1.25\\ 50.95 1.35\\ 51.0 1.15\\ 51.05 1.4\\ 51.1 1.3\\ 51.15 1.0\\ 51.2 1.35\\ 51.25 1.75\\ 51.3 1.3\\ 51.35 0.2\\ 51.4 1.25\\ 51.45 1.4\\ 51.5 1.2\\ 51.55 1.35\\ 51.6 0.8\\ 51.65 1.3\\ 51.7 1.45\\ 51.75 1.2\\ 51.8 1.35\\ 51.85 1.1\\ 51.9 1.4\\ 51.95 1.25\\ 52.0 1.5\\ 52.05 1.2\\ 52.1 1.35\\ 52.15 0.5\\ 52.2 1.3\\ 52.25 1.15\\ 52.3 1.4\\ 52.35 1.25\\ 52.4 1.35\\ 52.45 0.0\\ 52.5 1.3\\ 52.55 1.4\\ 52.6 1.2\\ 52.65 1.35\\ 52.7 0.7\\ 52.75 1.3\\ 52.8 1.15\\ 52.85 1.4\\ 52.9 1.25\\ 52.95 1.35\\ 53.0 1.1\\
}\zoomNine

\pgfplotstableread[row sep=\\]{x v\\
39.0 0.9\\ 39.05 0.7\\ 39.1 0.3\\ 39.15 0.75\\ 39.2 0.85\\ 39.25 0.95\\ 39.3 0.9\\ 39.35 0.8\\ 39.4 0.75\\ 39.45 0.9\\ 39.5 0.85\\ 39.55 0.95\\ 39.6 0.7\\ 39.65 0.85\\ 39.7 0.95\\ 39.75 0.8\\ 39.8 0.85\\ 39.85 0.95\\ 39.9 0.8\\ 39.95 0.7\\ 40.0 0.75\\ 40.05 0.9\\ 40.1 0.95\\ 40.15 0.85\\ 40.2 0.9\\ 40.25 1.0\\ 40.3 0.9\\ 40.35 0.95\\ 40.4 0.85\\ 40.45 1.0\\ 40.5 1.0\\ 40.55 1.05\\ 40.6 1.05\\ 40.7 1.15\\ 40.8 1.3\\ 40.9 1.4\\ 41.0 1.5\\ 41.1 1.58\\ 41.2 1.65\\ 41.3 1.72\\ 41.4 1.78\\ 41.5 1.82\\ 41.6 1.86\\ 41.7 1.9\\ 41.8 1.92\\ 41.9 1.96\\ 42.0 1.97\\ 42.1 2.0\\ 42.2 2.03\\ 42.3 2.05\\ 42.4 2.02\\ 42.5 2.04\\ 42.6 2.0\\ 42.7 1.96\\ 42.8 1.93\\ 42.9 1.92\\ 43.0 1.9\\ 43.2 1.86\\ 43.4 1.82\\ 43.6 1.8\\ 43.8 1.78\\ 44.0 1.76\\ 44.2 1.78\\ 44.4 1.77\\ 44.6 1.8\\ 44.8 1.83\\ 45.0 1.87\\ 45.2 1.95\\ 45.4 2.02\\ 45.6 2.1\\ 45.8 2.18\\ 46.0 2.25\\ 46.2 2.35\\ 46.4 2.45\\ 46.6 2.6\\ 46.7 2.8\\ 46.8 3.2\\ 46.9 4.1\\ 46.95 4.9\\ 47.0 6.2\\ 47.03 6.74\\ 47.08 6.3\\ 47.13 5.2\\ 47.2 4.2\\ 47.3 3.3\\ 47.4 2.8\\ 47.5 2.45\\ 47.6 2.25\\ 47.7 2.08\\ 47.8 1.93\\ 47.9 1.82\\ 48.0 1.72\\ 48.2 1.55\\ 48.4 1.42\\ 48.6 1.32\\ 48.8 1.25\\ 49.0 1.15\\ 49.1 1.2\\ 49.2 1.05\\ 49.3 1.1\\ 49.4 0.95\\ 49.5 1.0\\ 49.55 0.9\\ 49.6 0.85\\ 49.65 0.95\\ 49.7 0.9\\ 49.75 0.8\\ 49.8 0.85\\ 49.85 0.75\\ 49.9 0.9\\ 49.95 0.8\\ 50.0 0.7\\ 50.05 0.8\\ 50.1 0.85\\ 50.15 0.7\\ 50.2 0.6\\ 50.25 0.75\\ 50.3 0.8\\ 50.35 0.7\\ 50.4 0.65\\ 50.45 0.75\\ 50.5 0.7\\ 50.55 0.55\\ 50.6 0.4\\ 50.65 0.6\\ 50.7 0.7\\ 50.75 0.65\\ 50.8 0.6\\ 50.85 0.75\\ 50.9 0.7\\ 50.95 0.6\\ 51.0 0.55\\ 51.05 0.7\\ 51.1 0.65\\ 51.15 0.75\\ 51.2 0.65\\ 51.25 0.8\\ 51.3 0.75\\ 51.35 0.7\\ 51.4 0.8\\ 51.45 0.75\\ 51.5 0.85\\ 51.55 0.8\\ 51.6 0.9\\ 51.65 0.85\\ 51.7 0.95\\ 51.75 0.9\\ 51.8 1.0\\ 51.85 0.92\\ 51.9 1.02\\ 51.95 0.95\\ 52.0 1.08\\ 52.05 1.0\\ 52.1 0.95\\ 52.15 1.05\\ 52.2 0.95\\ 52.25 0.85\\ 52.3 0.9\\ 52.35 0.8\\ 52.4 0.95\\ 52.45 0.85\\ 52.5 0.8\\ 52.55 0.9\\ 52.6 0.75\\ 52.65 0.85\\ 52.7 0.7\\ 52.75 0.85\\ 52.8 0.8\\ 52.85 0.9\\ 52.9 0.85\\ 52.95 0.95\\ 53.0 1.0\\
}\zoomSix

\pgfplotstableread[row sep=\\]{x v\\
39.0 0.85\\ 39.05 0.7\\ 39.1 0.8\\ 39.15 0.65\\ 39.2 0.9\\ 39.25 0.75\\ 39.3 0.8\\ 39.35 0.6\\ 39.4 0.7\\ 39.45 0.85\\ 39.5 0.75\\ 39.55 0.5\\ 39.6 0.7\\ 39.65 0.8\\ 39.7 0.6\\ 39.75 0.3\\ 39.8 0.1\\ 39.85 0.55\\ 39.9 0.75\\ 39.95 0.65\\ 40.0 0.8\\ 40.05 0.6\\ 40.1 0.75\\ 40.15 0.55\\ 40.2 0.4\\ 40.25 0.15\\ 40.3 0.2\\ 40.35 0.6\\ 40.4 0.75\\ 40.45 0.65\\ 40.5 0.85\\ 40.55 0.7\\ 40.6 0.6\\ 40.65 0.8\\ 40.7 0.7\\ 40.75 0.5\\ 40.8 0.65\\ 40.85 0.8\\ 40.9 0.7\\ 40.95 0.85\\ 41.0 0.75\\ 41.05 0.6\\ 41.1 0.9\\ 41.15 0.75\\ 41.2 0.65\\ 41.25 0.8\\ 41.3 0.85\\ 41.35 0.7\\ 41.4 0.75\\ 41.45 0.9\\ 41.5 0.8\\ 41.55 0.65\\ 41.6 0.75\\ 41.65 0.85\\ 41.7 0.8\\ 41.75 0.95\\ 41.8 0.85\\ 41.85 0.7\\ 41.9 0.8\\ 41.95 0.9\\ 42.0 0.85\\ 42.1 0.8\\ 42.2 0.95\\ 42.3 0.85\\ 42.4 1.0\\ 42.5 0.8\\ 42.6 0.95\\ 42.7 0.9\\ 42.8 1.05\\ 42.9 0.85\\ 43.0 1.0\\ 43.1 0.95\\ 43.2 1.1\\ 43.3 1.0\\ 43.4 1.08\\ 43.5 1.12\\ 43.6 1.05\\ 43.7 1.15\\ 43.8 1.1\\ 43.9 1.05\\ 44.0 1.12\\ 44.1 1.0\\ 44.2 1.08\\ 44.3 1.05\\ 44.4 1.1\\ 44.5 1.3\\ 44.6 1.55\\ 44.7 1.85\\ 44.8 2.15\\ 44.9 2.45\\ 45.0 2.68\\ 45.1 2.82\\ 45.2 2.93\\ 45.3 3.02\\ 45.4 3.1\\ 45.5 3.15\\ 45.6 3.17\\ 45.7 3.17\\ 45.8 3.14\\ 45.9 3.05\\ 46.0 2.8\\ 46.06 2.3\\ 46.15 2.55\\ 46.25 2.95\\ 46.35 3.1\\ 46.45 3.13\\ 46.55 2.98\\ 46.67 2.75\\ 46.8 3.1\\ 46.9 4.3\\ 46.97 5.9\\ 47.0 6.61\\ 47.05 5.3\\ 47.1 4.1\\ 47.15 3.45\\ 47.2 3.0\\ 47.3 2.65\\ 47.4 2.58\\ 47.5 2.6\\ 47.6 2.55\\ 47.7 2.5\\ 47.8 2.49\\ 47.9 2.53\\ 48.0 2.57\\ 48.05 2.58\\ 48.15 2.5\\ 48.3 2.3\\ 48.45 2.1\\ 48.6 1.92\\ 48.75 1.72\\ 48.9 1.58\\ 49.0 1.52\\ 49.1 1.48\\ 49.2 1.5\\ 49.3 1.42\\ 49.4 1.44\\ 49.5 1.38\\ 49.6 1.32\\ 49.7 1.3\\ 49.8 1.22\\ 49.9 1.2\\ 50.0 1.12\\ 50.1 1.08\\ 50.2 1.02\\ 50.3 0.98\\ 50.4 0.92\\ 50.5 0.88\\ 50.55 0.8\\ 50.6 0.9\\ 50.65 0.75\\ 50.7 0.85\\ 50.75 0.7\\ 50.8 0.82\\ 50.85 0.65\\ 50.9 0.8\\ 50.95 0.7\\ 51.0 0.82\\ 51.05 0.6\\ 51.1 0.75\\ 51.15 0.65\\ 51.2 0.8\\ 51.25 0.55\\ 51.3 0.7\\ 51.35 0.75\\ 51.4 0.6\\ 51.45 0.78\\ 51.5 0.7\\ 51.55 0.5\\ 51.6 0.65\\ 51.65 0.75\\ 51.7 0.6\\ 51.75 0.72\\ 51.8 0.55\\ 51.85 0.7\\ 51.9 0.8\\ 51.95 0.6\\ 52.0 0.5\\ 52.05 0.7\\ 52.1 0.75\\ 52.15 0.6\\ 52.2 0.68\\ 52.25 0.45\\ 52.3 0.55\\ 52.35 0.7\\ 52.4 0.75\\ 52.45 0.6\\ 52.5 0.65\\ 52.55 0.8\\ 52.6 0.7\\ 52.65 0.55\\ 52.7 0.6\\ 52.75 0.75\\ 52.8 0.7\\ 52.85 0.9\\ 52.9 0.95\\ 52.95 0.7\\ 53.0 0.8\\
}\zoomFour

\pgfplotstableread[row sep=\\]{x v\\
39.0 0.8\\ 39.05 0.6\\ 39.1 0.9\\ 39.15 0.75\\ 39.2 0.85\\ 39.25 0.65\\ 39.3 0.9\\ 39.35 0.8\\ 39.4 0.95\\ 39.45 0.5\\ 39.5 0.0\\ 39.55 0.8\\ 39.6 0.9\\ 39.65 0.7\\ 39.7 0.85\\ 39.75 0.95\\ 39.8 0.6\\ 39.85 0.85\\ 39.9 0.75\\ 39.95 0.9\\ 40.0 0.7\\ 40.05 0.95\\ 40.1 0.85\\ 40.15 0.3\\ 40.2 0.0\\ 40.25 0.8\\ 40.3 0.9\\ 40.35 0.1\\ 40.4 0.0\\ 40.45 0.85\\ 40.5 0.75\\ 40.55 0.9\\ 40.6 0.7\\ 40.65 0.85\\ 40.7 0.95\\ 40.75 0.8\\ 40.8 0.6\\ 40.85 0.9\\ 40.9 0.85\\ 40.95 0.2\\ 41.0 0.8\\ 41.05 0.9\\ 41.1 0.75\\ 41.15 0.95\\ 41.2 0.8\\ 41.25 0.35\\ 41.3 0.85\\ 41.35 0.9\\ 41.4 0.7\\ 41.45 0.95\\ 41.5 0.85\\ 41.55 0.75\\ 41.6 0.9\\ 41.65 0.8\\ 41.7 0.95\\ 41.75 0.7\\ 41.8 0.85\\ 41.85 0.9\\ 41.9 0.8\\ 41.95 0.95\\ 42.0 0.6\\ 42.05 0.85\\ 42.1 0.9\\ 42.15 0.75\\ 42.2 0.95\\ 42.25 0.5\\ 42.3 0.85\\ 42.35 0.9\\ 42.4 0.8\\ 42.45 0.95\\ 42.5 0.85\\ 42.55 0.2\\ 42.6 0.8\\ 42.65 0.9\\ 42.7 0.75\\ 42.75 0.95\\ 42.8 0.85\\ 42.85 0.9\\ 42.9 0.7\\ 42.95 0.3\\ 43.0 0.85\\ 43.05 0.95\\ 43.1 0.8\\ 43.15 0.9\\ 43.2 0.6\\ 43.25 0.85\\ 43.3 0.95\\ 43.35 0.75\\ 43.4 0.9\\ 43.45 0.85\\ 43.5 1.0\\ 43.55 0.8\\ 43.6 0.95\\ 43.65 0.7\\ 43.7 0.9\\ 43.75 1.0\\ 43.8 0.85\\ 43.85 1.05\\ 43.9 0.9\\ 43.95 1.0\\ 44.0 0.85\\ 44.05 1.05\\ 44.1 0.95\\ 44.15 1.1\\ 44.2 0.9\\ 44.25 1.05\\ 44.3 0.75\\ 44.35 1.0\\ 44.4 1.1\\ 44.45 0.95\\ 44.5 1.05\\ 44.55 0.4\\ 44.6 0.2\\ 44.65 0.95\\ 44.7 1.1\\ 44.75 1.0\\ 44.8 1.2\\ 44.85 1.05\\ 44.9 1.15\\ 44.95 0.8\\ 45.0 1.2\\ 45.05 1.1\\ 45.1 1.25\\ 45.15 0.9\\ 45.2 0.7\\ 45.25 1.15\\ 45.3 1.3\\ 45.35 1.25\\ 45.4 1.35\\ 45.45 1.3\\ 45.5 1.4\\ 45.55 1.3\\ 45.6 1.2\\ 45.65 1.35\\ 45.7 1.3\\ 45.75 1.15\\ 45.8 1.05\\ 45.85 1.35\\ 45.9 1.45\\ 45.95 1.55\\ 46.0 1.6\\ 46.05 1.35\\ 46.1 1.1\\ 46.15 1.5\\ 46.2 1.75\\ 46.25 1.85\\ 46.3 1.9\\ 46.35 1.85\\ 46.4 1.88\\ 46.45 1.85\\ 46.5 1.9\\ 46.55 2.1\\ 46.6 2.3\\ 46.7 2.6\\ 46.8 3.0\\ 46.88 3.8\\ 46.94 6.49\\ 47.0 4.2\\ 47.08 3.4\\ 47.15 3.13\\ 47.25 2.95\\ 47.35 2.9\\ 47.45 2.65\\ 47.52 2.62\\ 47.6 2.85\\ 47.7 3.2\\ 47.8 3.5\\ 47.88 3.59\\ 47.96 3.55\\ 48.05 3.38\\ 48.15 3.0\\ 48.22 2.4\\ 48.28 1.5\\ 48.36 1.85\\ 48.45 2.1\\ 48.53 2.0\\ 48.6 1.6\\ 48.67 0.65\\ 48.75 1.2\\ 48.84 1.52\\ 48.92 1.3\\ 49.0 0.3\\ 49.08 0.9\\ 49.15 1.15\\ 49.2 1.2\\ 49.25 1.05\\ 49.3 1.1\\ 49.35 1.2\\ 49.4 1.15\\ 49.45 0.8\\ 49.5 0.2\\ 49.55 0.9\\ 49.6 1.05\\ 49.65 0.95\\ 49.7 0.85\\ 49.75 1.0\\ 49.8 0.95\\ 49.85 0.8\\ 49.9 0.7\\ 49.95 0.95\\ 50.0 0.9\\ 50.05 0.5\\ 50.1 0.15\\ 50.15 0.85\\ 50.2 0.85\\ 50.25 0.95\\ 50.3 0.8\\ 50.35 0.9\\ 50.4 0.95\\ 50.45 0.75\\ 50.5 0.6\\ 50.55 0.9\\ 50.6 0.85\\ 50.65 0.95\\ 50.7 0.9\\ 50.75 0.8\\ 50.8 0.7\\ 50.85 0.9\\ 50.9 0.95\\ 50.95 0.85\\ 51.0 0.8\\ 51.05 0.95\\ 51.1 0.9\\ 51.15 0.75\\ 51.2 0.55\\ 51.25 0.4\\ 51.3 0.1\\ 51.35 0.8\\ 51.4 0.85\\ 51.45 0.95\\ 51.5 0.9\\ 51.55 0.8\\ 51.6 0.65\\ 51.65 0.9\\ 51.7 0.85\\ 51.75 0.95\\ 51.8 0.95\\ 51.85 0.6\\ 51.9 0.25\\ 51.95 0.85\\ 52.0 0.85\\ 52.05 0.95\\ 52.1 0.75\\ 52.15 0.4\\ 52.2 0.1\\ 52.25 0.85\\ 52.3 0.9\\ 52.35 0.95\\ 52.4 0.8\\ 52.45 0.9\\ 52.5 0.95\\ 52.55 0.8\\ 52.6 0.6\\ 52.65 0.4\\ 52.7 0.15\\ 52.75 0.8\\ 52.8 0.85\\ 52.85 0.95\\ 52.9 0.75\\ 52.95 0.9\\ 53.0 0.8\\
}\zoomAG

\pgfplotsset{
  xrdpanel/.style={
    scale only axis, anchor=south west,
    ymin=0, ymax=8,
    ytick={1,2,3,4,5,6,7},
    minor ytick={0.301,0.477,0.602,0.699,0.778,0.845,0.903,0.954,1.301,1.477,1.602,1.699,1.778,1.845,1.903,1.954,2.301,2.477,2.602,2.699,2.778,2.845,2.903,2.954,3.301,3.477,3.602,3.699,3.778,3.845,3.903,3.954,4.301,4.477,4.602,4.699,4.778,4.845,4.903,4.954,5.301,5.477,5.602,5.699,5.778,5.845,5.903,5.954,6.301,6.477,6.602,6.699,6.778,6.845,6.903,6.954,7.301,7.477,7.602,7.699,7.778,7.845,7.903,7.954},
    yticklabels={},
    tick align=inside,
    major tick length=4.5pt,
    minor tick length=2.2pt,
    tick style={black, line width=0.9pt},
    axis line style={line width=1.4pt},
    tick label style={font=\sffamily\fontsize{13}{15}\selectfont, /pgf/number format/assume math mode=true},
    xticklabel style={yshift=-6pt},
  },
  leftpanel/.style={xrdpanel, width=273.25pt, height=104.125pt,
    xmin=5, xmax=90, xtick={10,20,...,90}, minor x tick num=4},
  rightpanel/.style={xrdpanel, width=270.5pt, height=103.375pt,
    xmin=39, xmax=53, xtick={39,40,...,53}, minor x tick num=4},
  nolabels/.style={xticklabels={}},
  diam/.style={only marks, mark=diamond*, mark size=2.8pt, color=dgreen},
}
\tikzset{
  lab/.style={rotate=90, anchor=west, font=\sffamily\fontsize{8}{9}\selectfont, inner sep=0.5pt},
  condbox/.style={draw=boxgray, line width=0.6pt, fill=white, inner sep=2.5pt,
    anchor=north east, font=\sffamily\fontsize{12.5}{14}\selectfont},
}

\newcommand{\sub}[1]{\textsubscript{#1}}

\begin{document}
\begin{tikzpicture}
\useasboundingbox (0,0) rectangle (619.5pt,521pt);

% ===================== (a) full scans =====================
\begin{axis}[leftpanel, nolabels, at={(27.25pt,389.375pt)}]
  \addplot[xred, line width=0.5pt] table[x=x, y=v] {\scanNine};
  \node[condbox] at (rel axis cs:0.965,0.928) {900°C, 10\textsuperscript{-12} atm};
  \node[lab, xred] at (axis cs:13.6,2.94) {(002)\sub{RP}};
  \node[lab, xred] at (axis cs:27.8,3.45) {(004)\sub{RP}};
  \node[lab, xred] at (axis cs:42.4,3.32) {(006)\sub{RP}};
  \node[lab, xred] at (axis cs:57.7,2.94) {(008)\sub{RP}};
  \node[lab, xred] at (axis cs:75.4,2.43) {(00 10)\sub{RP}};
\end{axis}

\begin{axis}[leftpanel, nolabels, at={(27.25pt,285.25pt)}]
  \addplot[xorange, line width=0.5pt] table[x=x, y=v] {\scanSix};
  \addplot[diam] coordinates {(51.7,1.63)};
  \node[condbox] at (rel axis cs:0.965,0.928) {600°C, 10\textsuperscript{-12} atm};
  \node[lab, xorange] at (axis cs:10.6,2.1) {(002)\sub{BM}};
  \node[lab, xred] at (axis cs:13.5,1.54) {(002)\sub{RP}};
  \node[lab, xorange] at (axis cs:21.5,2.18) {(004)\sub{BM}};
  \node[lab, xred] at (axis cs:27.4,2.24) {(004)\sub{RP}};
  \node[lab, xorange] at (axis cs:33.9,1.8) {(006)\sub{BM}};
  \node[lab, xred] at (axis cs:42.4,2.37) {(006)\sub{RP}};
  \node[lab, xorange] at (axis cs:45.5,3.0) {(008)\sub{BM}};
  \node[lab, xorange] at (axis cs:57.0,1.67) {(00 10)\sub{BM}};
  \node[lab, xred] at (axis cs:60.1,1.67) {(008)\sub{RP}};
\end{axis}

\begin{axis}[leftpanel, nolabels, at={(27.25pt,181.125pt)}]
  \addplot[xblue, line width=0.5pt] table[x=x, y=v] {\scanFour};
  \node[condbox] at (rel axis cs:0.965,0.928) {400°C, 10\textsuperscript{-12} atm};
  \node[lab, xblue] at (axis cs:7.7,2.23) {(002)\sub{GR}};
  \node[lab, xorange] at (axis cs:11.0,2.33) {(002)\sub{BM}};
  \node[lab, xblue] at (axis cs:15.0,2.17) {(004)\sub{GR}};
  \node[lab, xorange] at (axis cs:21.3,3.45) {(004)\sub{BM}};
  \node[lab, xblue] at (axis cs:24.5,3.06) {(006)\sub{GR}};
  \node[lab, xblue] at (axis cs:30.0,1.85) {(008)\sub{GR}};
  \node[lab, xorange] at (axis cs:33.3,2.55) {(006)\sub{BM}};
  \node[lab, xblue] at (axis cs:38.1,1.46) {(00 10)\sub{GR}};
  \node[lab, xorange] at (axis cs:45.5,3.26) {(008)\sub{BM}};
  \node[lab, xblue] at (axis cs:48.9,2.87) {(00 12)\sub{GR}};
  \node[lab, xblue] at (axis cs:54.2,1.85) {(00 14)\sub{GR}};
  \node[lab, xorange] at (axis cs:57.6,2.42) {(00 10)\sub{BM}};
  \node[lab, xblue] at (axis cs:63.0,1.97) {(00 16)\sub{GR}};
  \node[lab, xblue] at (axis cs:72.2,1.4) {(00 18)\sub{GR}};
  \node[lab, xorange] at (axis cs:75.9,1.33) {(00 12)\sub{BM}};
  \node[lab, xblue] at (axis cs:81.8,1.97) {(00 20)\sub{GR}};
  \node[lab, xorange] at (axis cs:85.4,2.36) {(00 14)\sub{BM}};
\end{axis}

\begin{axis}[leftpanel, at={(27.25pt,77pt)},
    xlabel={2θ (deg.)},
    xlabel style={font=\sffamily\fontsize{13.5}{15}\selectfont, at={(axis description cs:0.5,0)}, anchor=center, yshift=-37pt}]
  \addplot[black, line width=0.5pt] table[x=x, y=v] {\scanAG};
  \node[condbox] at (rel axis cs:0.954,0.928) {AG};
  \node[lab] at (axis cs:21.4,3.9) {(001)\sub{LSAT}};
  \node[lab] at (axis cs:24.9,3.83) {(001)\sub{P}};
  \node[lab] at (axis cs:45.6,3.83) {(002)\sub{LSAT}};
  \node[lab] at (axis cs:49.0,3.83) {(002)\sub{P}};
  \node[lab] at (axis cs:72.8,3.7) {(003)\sub{LSAT}};
  \node[lab] at (axis cs:75.8,2.42) {(003)\sub{P}};
\end{axis}

% ===================== (b) (002) region =====================
\begin{axis}[rightpanel, nolabels, at={(340.5pt,390.625pt)}]
  \addplot[xred, line width=1pt] table[x=x, y=v] {\zoomNine};
  \addplot[diam] coordinates {(44.9,3.15)};
  \node[condbox] at (rel axis cs:0.970,0.923) {900°C, 10\textsuperscript{-12} atm};
  \node[lab, xred] at (axis cs:42.67,3.9) {(006)\sub{RP}};
  \node[lab] at (axis cs:47.6,3.45) {(002)\sub{LSAT}};
\end{axis}

\begin{axis}[rightpanel, nolabels, at={(340.5pt,287.25pt)}]
  \addplot[xorange, line width=1pt] table[x=x, y=v] {\zoomSix};
  \node[condbox] at (rel axis cs:0.970,0.923) {600°C, 10\textsuperscript{-12} atm};
  \node[lab, xred] at (axis cs:42.6,2.22) {(006)\sub{RP}};
  \node[lab, xorange] at (axis cs:45.9,2.86) {(008)\sub{BM}};
  \node[lab] at (axis cs:47.6,3.06) {(002)\sub{LSAT}};
\end{axis}

\begin{axis}[rightpanel, nolabels, at={(340.5pt,183.875pt)}]
  \addplot[xblue, line width=1pt] table[x=x, y=v] {\zoomFour};
  \addplot[diam] coordinates {(46.36,3.61)};
  \node[condbox] at (rel axis cs:0.970,0.923) {400°C, 10\textsuperscript{-12} atm};
  \node[lab, xorange] at (axis cs:45.6,3.78) {(008)\sub{BM}};
  \node[lab] at (axis cs:47.5,3.52) {(002)\sub{LSAT}};
  \node[lab, xblue] at (axis cs:48.3,2.87) {(00 12)\sub{GR}};
\end{axis}

\begin{axis}[rightpanel, at={(340.5pt,80.5pt)},
    xlabel={2θ (deg.)},
    xlabel style={font=\sffamily\fontsize{13.5}{15}\selectfont, at={(axis description cs:0.5,0)}, anchor=center, yshift=-36.5pt}]
  \addplot[black, line width=1pt] table[x=x, y=v] {\zoomAG};
  \node[condbox] at (rel axis cs:0.957,0.923) {AG};
  \node[lab] at (axis cs:47.4,5.07) {(002)\sub{LSAT}};
  \node[lab] at (axis cs:48.0,3.97) {(002)\sub{P}};
\end{axis}

% titles, shared axis labels and sub-figure captions
\node[font=\sffamily\fontsize{14}{16}\selectfont] at (166.5pt,507.5pt) {LCO/LSCO/LSAT XRD};
\node[font=\sffamily\fontsize{14}{16}\selectfont] at (458.5pt,507.5pt) {LCO/LSCO/LSAT XRD (002) Peak};
\node[rotate=90, font=\sffamily\fontsize{13.5}{15}\selectfont] at (12.5pt,285.5pt) {Intensity (a.u.)};
\node[rotate=90, font=\sffamily\fontsize{13.5}{15}\selectfont] at (325pt,288pt) {Intensity (a.u.)};
\node[font=\rmfamily\fontsize{12}{14}\selectfont] at (156pt,7pt) {(a)};
\node[font=\rmfamily\fontsize{12}{14}\selectfont] at (467.5pt,7pt) {(b)};
\end{tikzpicture}
\end{document}
